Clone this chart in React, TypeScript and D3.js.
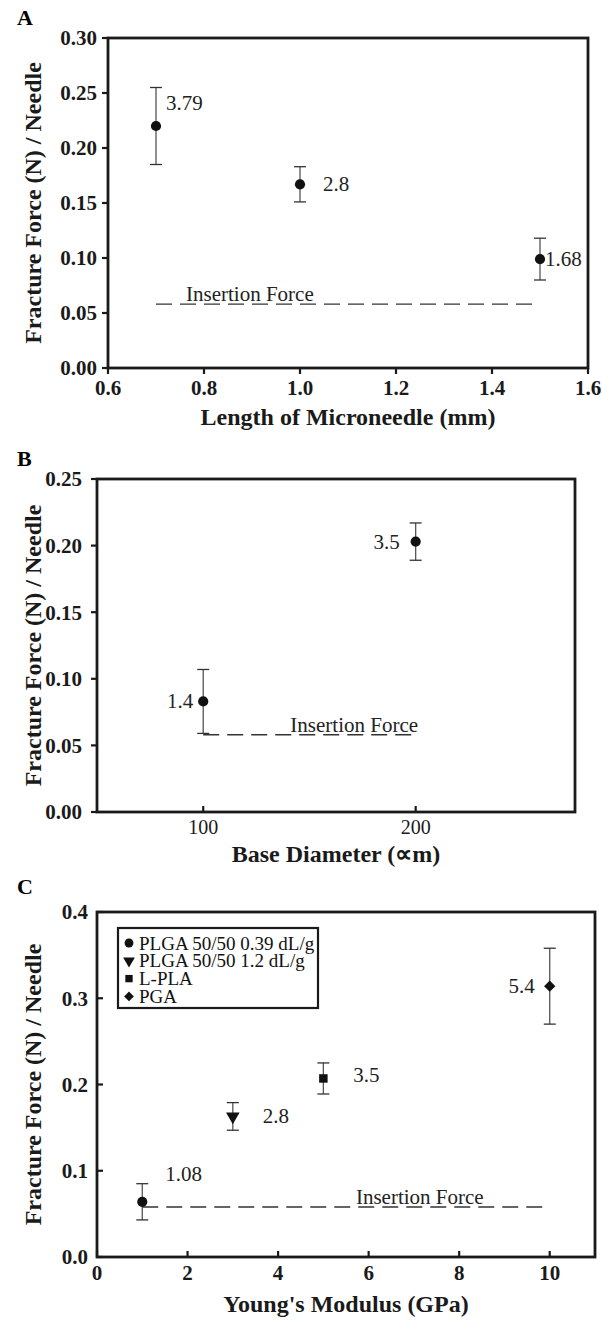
import * as d3 from "d3";
import { useEffect, useRef } from "react";

// panel A: length of microneedle
const lengthMm = [0.7, 1.0, 1.5];
const lengthForce = [0.22, 0.167, 0.099];
const lengthErr = [0.035, 0.016, 0.019];
const lengthLabels = ["3.79", "2.8", "1.68"];

// panel B: base diameter
const diameterUm = [100, 200];
const diameterForce = [0.083, 0.203];
const diameterErr = [0.024, 0.014];
const diameterLabels = ["1.4", "3.5"];

// panel C: young's modulus
const modulusGPa = [1, 3, 5, 10];
const modulusForce = [0.064, 0.163, 0.207, 0.314];
const modulusErr = [0.021, 0.016, 0.018, 0.044];
const modulusLabels = ["1.08", "2.8", "3.5", "5.4"];
const materials = ["PLGA 50/50 0.39 dL/g", "PLGA 50/50 1.2 dL/g", "L-PLA", "PGA"];

const insertionForce = 0.058;

const xTicksA = [0.6, 0.8, 1.0, 1.2, 1.4, 1.6];
const yTicksA = [0, 0.05, 0.1, 0.15, 0.2, 0.25, 0.3];
const xTicksB = [100, 200];
const yTicksB = [0, 0.05, 0.1, 0.15, 0.2, 0.25];
const xTicksC = [0, 2, 4, 6, 8, 10];
const yTicksC = [0, 0.1, 0.2, 0.3, 0.4];

const FONT = "'Liberation Serif', 'Times New Roman', serif";
const INK = "#1a1a1a";

// marker shapes
const markerPath = (name, small = false) => {
  const k = small ? 0.75 : 1;
  if (name === "triangle") return d3.symbol().type(d3.symbolTriangle).size(80 * k)();
  if (name === "square") return d3.symbol().type(d3.symbolSquare).size(72 * k)();
  if (name === "diamond") return d3.symbol().type(d3.symbolSquare).size(64 * k)();
  return d3.symbol().type(d3.symbolCircle).size(82 * k)();
};
const markerRot = (name) => (name === "triangle" ? " rotate(180)" : name === "diamond" ? " rotate(45)" : "");

const panels = [
  {
    letter: "A", letterY: 25,
    left: 108, right: 588, top: 38, bottom: 368,
    xDomain: [0.6, 1.6], yDomain: [0, 0.3],
    xTicks: xTicksA, yTicks: yTicksA, xFmt: ".1f", yFmt: ".2f",
    yTickDir: -1, xTickDir: -1, yLabelGap: 11, xBold: true,
    xTitle: "Length of Microneedle (mm)", xTitleY: 425, xLabelY: 395,
    xs: lengthMm, ys: lengthForce, errs: lengthErr, labels: lengthLabels,
    labelPos: [[10, -16, "start"], [23, 7, "start"], [5, 7, "start"]],
    shapes: ["circle", "circle", "circle"],
    insX: [0.7, 1.5], insTextX: 0.7625,
  },
  {
    letter: "B", letterY: 466,
    left: 97, right: 575, top: 479, bottom: 812,
    xDomain: [50, 275], yDomain: [0, 0.25],
    xTicks: xTicksB, yTicks: yTicksB, xFmt: "d", yFmt: ".2f",
    yTickDir: -1, xTickDir: 1, yLabelGap: 15, xBold: false,
    xTitle: "Base Diameter (\u221Dm)", xTitleY: 862, xLabelY: 834,
    xs: diameterUm, ys: diameterForce, errs: diameterErr, labels: diameterLabels,
    labelPos: [[-10, 7, "end"], [-16, 7, "end"]],
    shapes: ["circle", "circle"],
    insX: [100, 200], insTextX: 141,
  },
  {
    letter: "C", letterY: 894,
    left: 97, right: 595, top: 912, bottom: 1257,
    xDomain: [0, 11], yDomain: [0, 0.4],
    xTicks: xTicksC, yTicks: yTicksC, xFmt: "d", yFmt: ".1f",
    yTickDir: 1, xTickDir: 1, yLabelGap: 9, xBold: true,
    xTitle: "Young's Modulus (GPa)", xTitleY: 1312, xLabelY: 1280,
    xs: modulusGPa, ys: modulusForce, errs: modulusErr, labels: modulusLabels,
    labelPos: [[23, -21, "start"], [30, 7, "start"], [30, 4, "start"], [-15, 7, "end"]],
    shapes: ["circle", "triangle", "square", "diamond"],
    insX: [1, 10], insTextX: 5.72,
    legend: true,
  },
];

const App = () => {
  const ref = useRef(null);

  useEffect(() => {
    const svg = d3.select(ref.current);
    svg.selectAll("*").remove();
    svg.style("font-family", FONT);

    panels.forEach((p) => {
      const g = svg.append("g");
      const x = d3.scaleLinear().domain(p.xDomain).range([p.left, p.right]);
      const y = d3.scaleLinear().domain(p.yDomain).range([p.bottom, p.top]);

      // panel letter
      g.append("text").attr("x", 17).attr("y", p.letterY)
        .attr("font-size", 22).attr("font-weight", "bold").text(p.letter);

      // frame
      g.append("rect")
        .attr("x", p.left).attr("y", p.top)
        .attr("width", p.right - p.left).attr("height", p.bottom - p.top)
        .attr("fill", "none").attr("stroke", INK).attr("stroke-width", 2.8);

      // y ticks (-1 outward, 1 inward)
      const tl = 6;
      p.yTicks.forEach((t) => {
        g.append("line")
          .attr("x1", p.left).attr("x2", p.left + tl * p.yTickDir)
          .attr("y1", y(t)).attr("y2", y(t))
          .attr("stroke", INK).attr("stroke-width", 2.2);
        g.append("text")
          .attr("x", p.left - p.yLabelGap).attr("y", y(t))
          .attr("dy", "0.35em").attr("text-anchor", "end")
          .attr("font-size", 21).attr("font-weight", "bold").attr("fill", INK)
          .text(d3.format(p.yFmt)(t));
      });

      // x ticks
      p.xTicks.forEach((t) => {
        g.append("line")
          .attr("x1", x(t)).attr("x2", x(t))
          .attr("y1", p.bottom).attr("y2", p.bottom - tl * p.xTickDir)
          .attr("stroke", INK).attr("stroke-width", 2.2);
        g.append("text")
          .attr("x", x(t)).attr("y", p.xLabelY)
          .attr("text-anchor", "middle").attr("fill", INK)
          .attr("font-size", p.xBold ? 21 : 20).attr("font-weight", p.xBold ? "bold" : "normal")
          .text(d3.format(p.xFmt)(t));
      });

      // axis titles
      g.append("text")
        .attr("x", (p.left + p.right) / 2).attr("y", p.xTitleY)
        .attr("text-anchor", "middle").attr("font-size", 24).attr("font-weight", "bold")
        .attr("fill", INK)
        .text(p.xTitle);
      const cy = (p.top + p.bottom) / 2;
      g.append("text")
        .attr("transform", `translate(41, ${cy}) rotate(-90)`)
        .attr("text-anchor", "middle").attr("font-size", 24).attr("font-weight", "bold")
        .attr("fill", INK)
        .text("Fracture Force (N) / Needle");

      // insertion force line
      g.append("line")
        .attr("x1", x(p.insX[0])).attr("x2", x(p.insX[1]))
        .attr("y1", y(insertionForce)).attr("y2", y(insertionForce))
        .attr("stroke", "#333").attr("stroke-width", 1.3)
        .attr("stroke-dasharray", "16,8");
      g.append("text")
        .attr("x", x(p.insTextX)).attr("y", y(insertionForce) - 3)
        .attr("font-size", 21).attr("fill", "#222")
        .text("Insertion Force");

      // error bars + points
      p.xs.forEach((xv, i) => {
        const px = x(xv);
        const hi = y(p.ys[i] + p.errs[i]);
        const lo = y(p.ys[i] - p.errs[i]);
        g.append("line").attr("x1", px).attr("x2", px).attr("y1", hi).attr("y2", lo)
          .attr("stroke", "#555").attr("stroke-width", 1.3);
        [hi, lo].forEach((yy) => {
          g.append("line").attr("x1", px - 6).attr("x2", px + 6).attr("y1", yy).attr("y2", yy)
            .attr("stroke", "#333").attr("stroke-width", 1.3);
        });
        g.append("path")
          .attr("d", markerPath(p.shapes[i]))
          .attr("transform", `translate(${px}, ${y(p.ys[i])})` + markerRot(p.shapes[i]))
          .attr("fill", "#111");
        const [dx, dy, anchor] = p.labelPos[i];
        g.append("text")
          .attr("x", px + dx).attr("y", y(p.ys[i]) + dy)
          .attr("text-anchor", anchor).attr("font-size", 21).attr("fill", "#222")
          .text(p.labels[i]);
      });

      // legend
      if (p.legend) {
        const lx = 118, ly = 928;
        g.append("rect").attr("x", lx).attr("y", ly).attr("width", 200).attr("height", 80)
          .attr("fill", "white").attr("stroke", INK).attr("stroke-width", 2.2);
        materials.forEach((m, i) => {
          const ry = ly + 15 + i * 17.8;
          g.append("path")
            .attr("d", markerPath(p.shapes[i], true))
            .attr("transform", `translate(${lx + 11}, ${ry})` + markerRot(p.shapes[i]))
            .attr("fill", "#111");
          g.append("text")
            .attr("x", lx + 21).attr("y", ry).attr("dy", "0.35em")
            .attr("font-size", 19).attr("fill", "#111")
            .text(m);
        });
      }
    });
  }, []);

  return (
    <svg
      ref={ref}
      width={602}
      height={1321}
      style={{ position: "absolute", left: 0, top: 0, background: "white" }}
    />
  );
};

export default App;
